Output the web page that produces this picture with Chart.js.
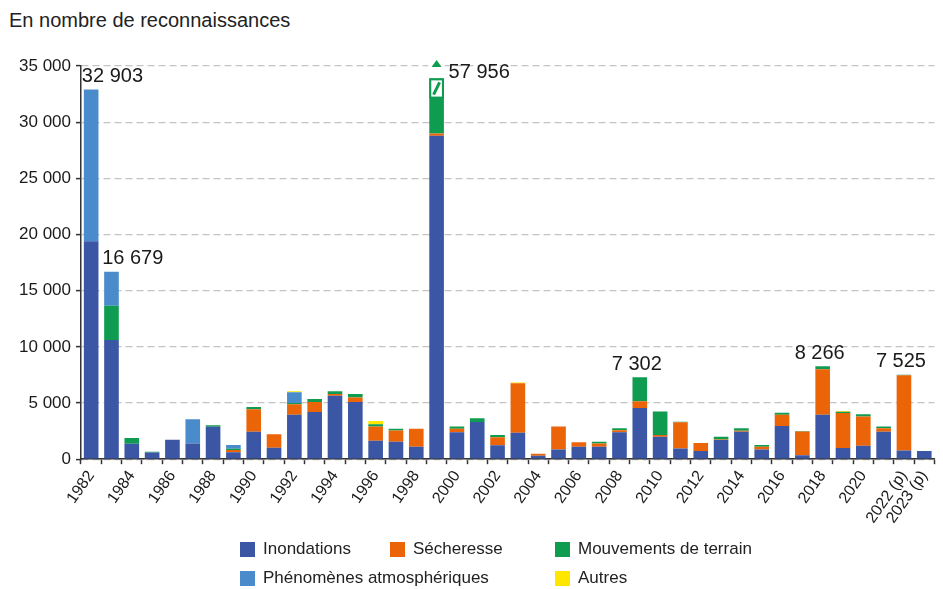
<!DOCTYPE html>
<html lang="fr">
<head>
<meta charset="utf-8">
<script src="https://cdn.jsdelivr.net/npm/chart.js@4.4.1/dist/chart.umd.min.js"></script>
<style>
  body { margin: 0; background: #fff; font-family: "Liberation Sans", Arial, sans-serif; }
  #wrap { position: relative; width: 943px; height: 589px; overflow: hidden; }
  #titre { position: absolute; left: 9px; top: 9px; font-size: 20px; color: #222; }
  #graph { position: absolute; left: 0; top: 0; }
  #legende { position: absolute; left: 240px; top: 539px; display: grid;
             grid-template-columns: 150px 165px auto; row-gap: 9px; font-size: 17px; color: #222; }
  .item { display: flex; align-items: center; white-space: nowrap; }
  .item .box { width: 15px; height: 15px; margin-right: 8px; }
</style>
</head>
<body>
<div id="wrap">
  <div id="titre">En nombre de reconnaissances</div>
  <canvas id="graph" width="943" height="540"></canvas>
  <div id="legende"></div>
</div>
<script>
const annees = ["1982", "1983", "1984", "1985", "1986", "1987", "1988", "1989", "1990", "1991",
  "1992", "1993", "1994", "1995", "1996", "1997", "1998", "1999", "2000", "2001",
  "2002", "2003", "2004", "2005", "2006", "2007", "2008", "2009", "2010", "2011",
  "2012", "2013", "2014", "2015", "2016", "2017", "2018", "2019", "2020", "2021",
  "2022 (p)", "2023 (p)"];

const inondations = [19400, 10600, 1380, 600, 1730, 1400, 2880, 620, 2450, 1020,
  3950, 4200, 5650, 5100, 1650, 1550, 1100, 28800, 2400, 3300,
  1250, 2350, 300, 850, 1100, 1100, 2400, 4550, 2000, 950,
  720, 1700, 2450, 860, 2950, 360, 3950, 1000, 1200, 2450,
  770, 720];
const secheresse = [0, 0, 0, 0, 0, 0, 0, 200, 2000, 1200,
  950, 900, 150, 400, 1250, 1000, 1600, 200, 300, 0,
  700, 4400, 180, 2050, 400, 300, 170, 600, 150, 2330,
  730, 50, 80, 250, 1000, 2100, 4050, 3100, 2600, 300,
  6690, 0];
const mouvements = [0, 3060, 500, 50, 0, 0, 150, 100, 200, 0,
  100, 250, 250, 300, 200, 150, 0, 28956, 200, 350,
  200, 0, 0, 0, 0, 150, 180, 2152, 2100, 50,
  0, 250, 220, 150, 180, 40, 266, 130, 200, 150,
  65, 0];
const atmospheriques = [13503, 3019, 0, 0, 0, 2150, 0, 350, 0, 0,
  950, 0, 0, 0, 0, 0, 0, 0, 0, 0,
  0, 0, 0, 0, 0, 0, 0, 0, 0, 0,
  0, 0, 0, 0, 0, 0, 0, 0, 0, 0,
  0, 0];
const autres = [0, 0, 0, 0, 0, 0, 0, 0, 0, 0,
  100, 0, 0, 0, 300, 0, 0, 0, 0, 0,
  0, 80, 0, 0, 0, 0, 0, 0, 0, 0,
  0, 0, 0, 0, 0, 0, 0, 50, 0, 0,
  0, 0];

const noms = ["Inondations", "Sécheresse", "Mouvements de terrain", "Phénomènes atmosphériques", "Autres"];
const couleurs = ["#3B56A5", "#EC6408", "#0F9B50", "#4A8BCB", "#FFE600"];
const series = [inondations, secheresse, mouvements, atmospheriques, autres];

// barres dont le total est affiché
const anneesEtiquetees = ["1982", "1983", "1999", "2009", "2018", "2022 (p)"];

const police = '"Liberation Sans", Arial, sans-serif';

function espaces(n) {
  return String(Math.round(n)).replace(/\B(?=(\d{3})+(?!\d))/g, " ");
}

const totaux = {
  id: "totaux",
  afterDatasetsDraw(chart) {
    const { ctx, scales: { x, y } } = chart;
    ctx.save();
    ctx.font = "20px " + police;
    ctx.fillStyle = "#1a1a1a";
    ctx.textBaseline = "bottom";
    anneesEtiquetees.forEach(function (a) {
      const i = annees.indexOf(a);
      const total = series.reduce((s, arr) => s + arr[i], 0);
      const barre = chart.getDatasetMeta(0).data[i];
      const cx = x.getPixelForValue(i);
      const w = barre.width;
      if (total > y.max) {
        // barre coupée : on masque le haut et on dessine la rupture
        const yHaut = y.getPixelForValue(33900);
        const yBas = y.getPixelForValue(32100);
        ctx.fillStyle = "#fff";
        ctx.fillRect(cx - w / 2 - 1, y.top - 1, w + 2, yHaut - y.top + 1);
        ctx.fillStyle = couleurs[2];
        ctx.fillRect(cx - w / 2, yHaut, w, yBas - yHaut);
        ctx.fillStyle = "#fff";
        ctx.fillRect(cx - w / 2 + 2, yHaut + 2, w - 4, yBas - yHaut - 4);
        ctx.strokeStyle = couleurs[2];
        ctx.lineWidth = 3;
        ctx.beginPath();
        ctx.moveTo(cx - 3, yBas - 4);
        ctx.lineTo(cx + 3, yHaut + 4);
        ctx.stroke();
        ctx.fillStyle = couleurs[2];
        ctx.beginPath();
        ctx.moveTo(cx, y.top - 6);
        ctx.lineTo(cx - 5, y.top + 1);
        ctx.lineTo(cx + 5, y.top + 1);
        ctx.closePath();
        ctx.fill();
        ctx.fillStyle = "#1a1a1a";
        ctx.textAlign = "left";
        ctx.fillText(espaces(total), cx + 12, y.top + 16);
      } else {
        const haut = y.getPixelForValue(total);
        if (i < 2) {
          ctx.textAlign = "left";
          ctx.fillText(espaces(total), cx - w / 2 - 2, haut - 3);
        } else {
          ctx.textAlign = "center";
          ctx.fillText(espaces(total), cx - 3, haut - 3);
        }
      }
    });
    ctx.restore();
  }
};

new Chart(document.getElementById("graph").getContext("2d"), {
  type: "bar",
  data: {
    labels: annees,
    datasets: series.map((d, k) => ({
      label: noms[k],
      data: d,
      backgroundColor: couleurs[k],
      borderWidth: 0,
      barPercentage: 0.72,
      categoryPercentage: 1
    }))
  },
  options: {
    responsive: false,
    animation: false,
    layout: { padding: { top: 66, left: 14, right: 0, bottom: 10 } },
    plugins: {
      legend: { display: false },
      tooltip: { enabled: false }
    },
    scales: {
      x: {
        stacked: true,
        grid: { drawOnChartArea: false, drawTicks: true, tickLength: 5, tickColor: "#333", tickWidth: 1.5 },
        border: { color: "#333", width: 1.5 },
        ticks: {
          autoSkip: false,
          minRotation: 55,
          maxRotation: 55,
          padding: 3,
          color: "#1a1a1a",
          font: { family: police, size: 16 },
          callback: function (v, i) {
            const l = annees[i];
            return (i % 2 === 0 || l.indexOf("(p)") > 0) ? l : "";
          }
        }
      },
      y: {
        stacked: true,
        min: 0,
        max: 35000,
        grid: { color: "#c4c4c4", lineWidth: 1.2, tickColor: "#333", tickLength: 5, tickWidth: 1.5 },
        border: { color: "#333", width: 1.5, dash: [7, 4] },
        ticks: {
          stepSize: 5000,
          padding: 5,
          color: "#1a1a1a",
          font: { family: police, size: 17 },
          callback: v => espaces(v)
        }
      }
    }
  },
  plugins: [totaux]
});

const legende = document.getElementById("legende");
noms.forEach(function (n, k) {
  const d = document.createElement("div");
  d.className = "item";
  if (k === 3) d.style.gridColumn = "span 2";
  d.innerHTML = '<span class="box" style="background:' + couleurs[k] + '"></span>' + n;
  legende.appendChild(d);
});
</script>
</body>
</html>
